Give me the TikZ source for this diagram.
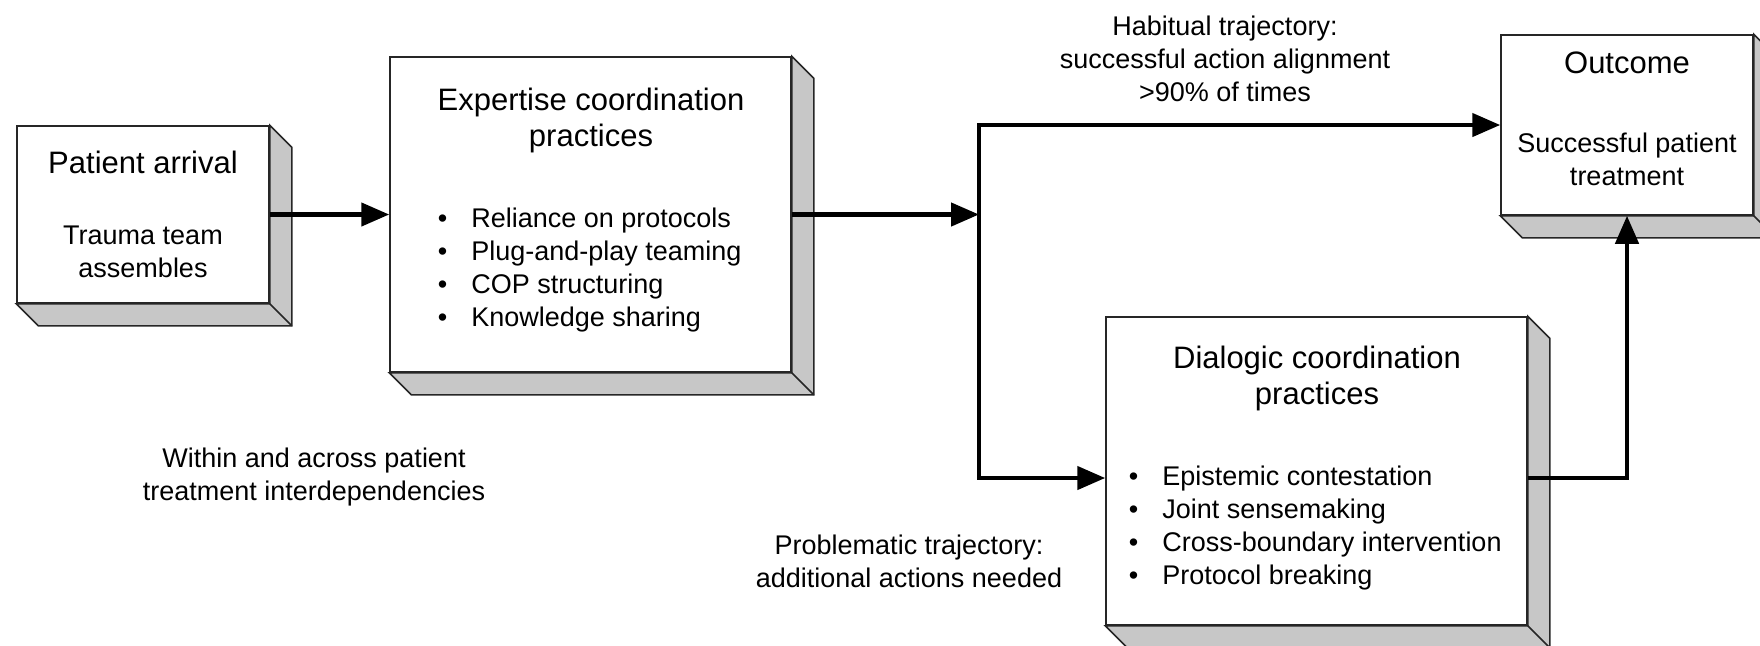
\documentclass[tikz,border=0pt]{standalone}
\usepackage{fontspec}
\setmainfont{Liberation Sans}
\usetikzlibrary{arrows.meta}

\tikzset{
  panel/.style={draw=black!85, line width=0.75pt, fill=white, inner sep=0pt},
  depthface/.style={draw=black!85, line width=0.75pt, fill=black!22, line join=miter},
  heading/.style={align=center, font=\fontsize{15.5}{18}\selectfont},
  body/.style={align=center, font=\fontsize{13.5}{16.5}\selectfont},
  bullets/.style={align=left, anchor=west, inner sep=0pt, font=\fontsize{13.5}{16.5}\selectfont},
  flow/.style={line width=2.25pt, -{Triangle[length=14pt,width=11.5pt]}},
  branch/.style={line width=2.25pt, line join=miter,
    {Triangle[length=14pt,width=11.5pt]}-{Triangle[length=14pt,width=11.5pt]}},
}
\newcommand{\bul}{\makebox[16.75pt][l]{\textbullet}}

\begin{document}
\begin{tikzpicture}[x=0.5pt, y=-0.5pt]

\useasboundingbox (0,0) rectangle (1760,645);
\clip (0,0) rectangle (1760,645);

% front faces
\node [panel, minimum width=126pt, minimum height=88.5pt] (arrival) at (143,214.5) {};
\node [panel, minimum width=200.5pt, minimum height=157.5pt] (expertise) at (590.5,214.5) {};
\node [panel, minimum width=126pt, minimum height=90pt] (outcome) at (1627,125) {};
\node [panel, minimum width=210.5pt, minimum height=154pt] (dialogic) at (1316.5,471) {};

% side and bottom faces
\foreach \b in {arrival,expertise,outcome,dialogic} {
    \filldraw [depthface] (\b.north east) -- ++(22,22) -- ([shift={(22,22)}]\b.south east)
        -- ([shift={(22,22)}]\b.south west) -- (\b.south west) -- (\b.south east) -- cycle;
    \draw [depthface] (\b.south east) -- ++(22,22);
}

% box texts
\node [heading] (arrivaltitle) at (143,162) {Patient arrival};
\node [body] (arrivaltext) at (143,252) {Trauma team\\assembles};

\node [heading] (experttitle) at (591,120) {Expertise coordination\\practices};
\node [bullets] (expertlist) at (437.5,270.5) {\bul Reliance on protocols\\\bul Plug-and-play teaming\\\bul COP structuring\\\bul Knowledge sharing};

\node [heading] (outcometitle) at (1627,63) {Outcome};
\node [body] (outcometext) at (1627,159) {Successful patient\\treatment};

\node [heading] (dialogtitle) at (1317,378) {Dialogic coordination\\practices};
\node [bullets] (dialoglist) at (1128.5,528) {\bul Epistemic contestation\\\bul Joint sensemaking\\\bul Cross-boundary intervention\\\bul Protocol breaking};

% free labels
\node [body] (habitual) at (1225,58.5) {Habitual trajectory:\\successful action alignment\\>90\% of times};
\node [body] (interdep) at (314,477) {Within and across patient\\treatment interdependencies};
\node [body] (problem) at (909,561) {Problematic trajectory:\\additional actions needed};

% connectors
\coordinate (lowturn) at (979,478);

\draw [flow] (arrival) -- (expertise);
\draw [flow] (expertise.east) -- (lowturn |- expertise.east);
\draw [branch] (outcome.west) -| (lowturn) -- (dialogic.west |- lowturn);
\draw [flow] (dialogic.east |- lowturn) -| (outcome.south);

\end{tikzpicture}
\end{document}
